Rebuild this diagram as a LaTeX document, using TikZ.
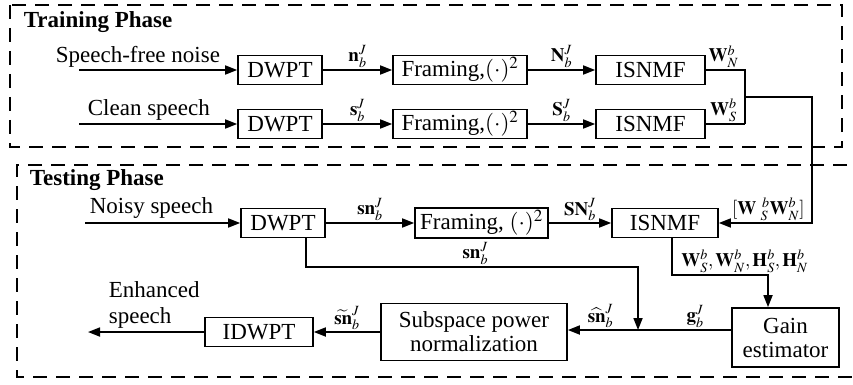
\documentclass[tikz,border=0pt]{standalone}
\usepackage{mathptmx}
\usepackage{fontspec}
\setmainfont{Liberation Serif}
\usepackage{tikz}
\usetikzlibrary{arrows.meta, calc}

\begin{document}
\begin{tikzpicture}[
    x=1pt, y=-1pt, line width=1.7pt,
    font=\fontsize{23}{24}\selectfont,
    box/.style={draw, inner sep=0pt, minimum height=29pt},
    phase/.style={dash pattern=on 14pt off 9pt, line width=2pt},
    lbl/.style={inner sep=1.5pt, font=\fontsize{19}{20}\selectfont},
    txt/.style={anchor=base west, inner sep=0pt},
    >={Triangle[length=12pt,width=9pt]}
  ]
  \useasboundingbox (0,0) rectangle (853,385);
  % frames
  \draw[phase] (10,5) rectangle (842,147);
  \draw[phase] (870,165) -- (17,165) -- (17,377) -- (870,377);
  \node[txt] (trn) at (23,28) {\textbf{Training Phase}};
  \node[txt] (tst) at (29,185) {\textbf{Testing Phase}};

  % training rows
  \coordinate (inA) at (79,70);
  \coordinate (inB) at (79,124);
  \node[txt] (txtA) at (55,63) {Speech-free noise};
  \node[txt] (txtB) at (87,116) {Clean speech};
  \node[box, minimum width=84pt] (dwptA) at (280,70) {DWPT};
  \node[box, minimum width=134pt] (frmA) at (460,70) {Framing,$(\cdot)^2$};
  \node[box, minimum width=109pt] (isnA) at (650.5,70) {ISNMF};
  \node[box, minimum width=84pt] (dwptB) at (280,124) {DWPT};
  \node[box, minimum width=134pt] (frmB) at (460,124) {Framing,$(\cdot)^2$};
  \node[box, minimum width=109pt] (isnB) at (650.5,124) {ISNMF};
  \path[->]
    (inA) edge (dwptA)
    (dwptA) edge node[above,lbl] {$\mathbf{n}_b^J$} (frmA)
    (frmA) edge node[above,lbl] {$\mathbf{N}_b^J$} (isnA)
    (inB) edge (dwptB)
    (dwptB) edge node[above,lbl] {$\mathbf{s}_b^J$} (frmB)
    (frmB) edge node[above,lbl] {$\mathbf{S}_b^J$} (isnB);

  % bases to the testing ISNMF
  \coordinate (wN) at (745,70);
  \coordinate (wS) at (745,124);
  \coordinate (wJ) at (745,97);
  \coordinate (wR) at (812,97);
  \draw (isnA) -- node[above,lbl,xshift=-2pt] {$\mathbf{W}_N^b$} (wN) -- (wS);
  \draw (isnB) -- node[above,lbl,xshift=-2pt] {$\mathbf{W}_S^b$} (wS);

  % testing row
  \coordinate (inC) at (85,223);
  \node[txt] (txtC) at (89,213) {Noisy speech};
  \node[box, minimum width=84pt] (dwptC) at (283,223) {DWPT};
  \node[box, minimum width=133pt, minimum height=30pt] (frmC) at (481.5,223) {Framing, $(\cdot)^2$};
  \node[box, minimum width=106pt] (isnC) at (665,223) {ISNMF};
  \path[->]
    (inC) edge (dwptC)
    (dwptC) edge node[above,lbl] {$\mathbf{sn}_b^J$} (frmC)
    (frmC) edge node[above,lbl] {$\mathbf{SN}_b^J$} (isnC);
  \draw[->] (wJ) -- (wR) |- node[pos=0.75,above,lbl,xshift=3pt]
    {$[\mathbf{W}\;{}_S^{\,b}\mathbf{W}_N^b]$} (isnC);

  % lower row
  \node[box, minimum width=107pt, minimum height=59pt, align=center] (gain) at (785.5,337.5) {Gain\\estimator};
  \node[box, minimum width=186pt, minimum height=57pt, align=center] (spn) at (474,332) {Subspace power\\normalization};
  \node[box, minimum width=108pt] (idwpt) at (259,332) {IDWPT};
  \coordinate (outE) at (88,332);
  \node[txt] (outA) at (108,297) {Enhanced};
  \node[txt] (outB) at (108,323) {speech};

  \coordinate (wk) at (768,275);
  \draw[->] ([xshift=7pt]isnC.south) |- node[pos=0.5,anchor=south west,xshift=7pt,lbl]
    {$\mathbf{W}_S^b,\mathbf{W}_N^b,\mathbf{H}_S^b,\mathbf{H}_N^b$} (wk) -- (wk |- gain.north);
  \coordinate (gW) at ([yshift=7.5pt]gain.west);
  \coordinate (mix) at (638,330);
  \coordinate (snR) at (638,267);
  \draw[->] (gW) -- node[pos=0.22,above,lbl] {$\mathbf{g}_b^J$}
    node[pos=0.8,above,lbl] {$\widehat{\mathbf{sn}}_b^J$} (gW -| spn.east);
  \draw[->] ([xshift=23pt]dwptC.south) |- node[pos=0.755,above,lbl] {$\mathbf{sn}_b^J$} (snR) -- (mix);
  \path[->]
    (spn) edge node[above,lbl] {$\widetilde{\mathbf{sn}}_b^J$} (idwpt)
    (idwpt) edge (outE);
\end{tikzpicture}
\end{document}
